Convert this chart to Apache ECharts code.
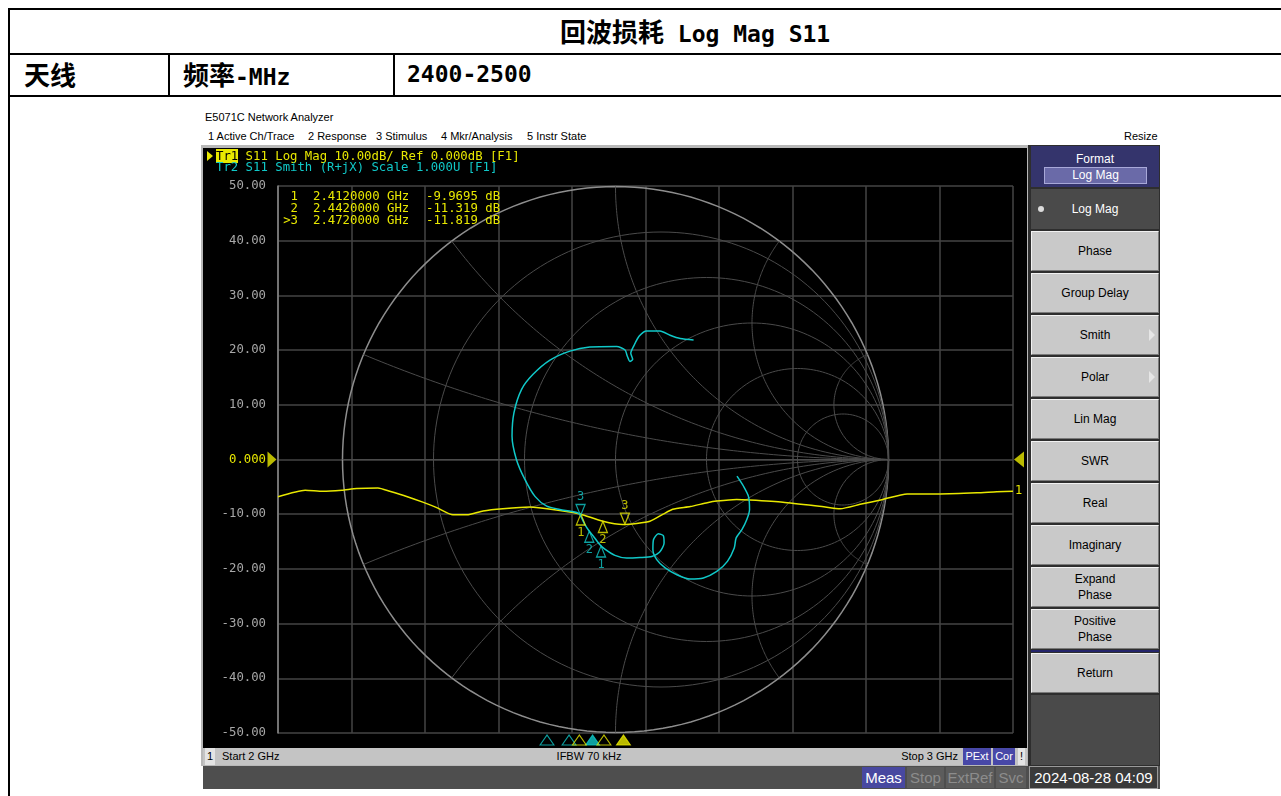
<!DOCTYPE html>
<html><head><meta charset="utf-8"><title>回波损耗 Log Mag S11</title>
<script src="https://cdn.jsdelivr.net/npm/echarts/dist/echarts.min.js"></script>
<style>
html,body{margin:0;padding:0;background:#fff;}
body{width:1281px;height:796px;position:relative;overflow:hidden;font-family:"Liberation Sans",Arial,sans-serif;}
.a{position:absolute;white-space:pre;}
.hl{background:#000;position:absolute;height:2px;}
.vl{background:#000;position:absolute;width:2px;}
.doc{font-family:"DejaVu Sans Mono","Noto Sans CJK SC",monospace;font-weight:bold;font-size:23px;line-height:30px;color:#000;}
.cj{font-family:"Noto Sans CJK SC",sans-serif;font-size:26px;font-weight:bold;}
.ui{font-size:11px;color:#000;line-height:14px;}
.mono{font-family:"DejaVu Sans Mono",monospace;font-size:12.3px;line-height:12px;}
.btn{position:absolute;left:1031px;width:126px;height:38px;background:#c9c9c9;border-top:1px solid #f2f2f2;border-left:1px solid #f2f2f2;border-bottom:1px solid #7a7a7a;border-right:1px solid #7a7a7a;display:flex;align-items:center;justify-content:center;text-align:center;font-size:12px;line-height:16px;color:#000;}
.arr{position:absolute;right:3px;top:13px;width:0;height:0;border-left:6px solid #e6e6e6;border-top:6px solid transparent;border-bottom:6px solid transparent;}
.sb{position:absolute;top:0;height:17px;line-height:17px;font-size:11px;}
.sb2{position:absolute;top:1px;height:21px;line-height:21px;font-size:15px;font-family:"Liberation Sans Narrow","Liberation Sans",sans-serif;text-align:center;}
</style></head>
<body>
<!-- document table -->
<div class="hl" style="left:8px;top:8px;width:1273px"></div>
<div class="hl" style="left:8px;top:53px;width:1273px"></div>
<div class="hl" style="left:8px;top:95px;width:1273px"></div>
<div class="vl" style="left:8px;top:8px;height:788px"></div>
<div class="vl" style="left:168px;top:53px;height:42px"></div>
<div class="vl" style="left:393px;top:53px;height:42px"></div>
<div class="a doc" style="left:560px;top:16px"><span class="cj">回波损耗</span> Log Mag S11</div>
<div class="a doc" style="left:24px;top:59px"><span class="cj">天线</span></div>
<div class="a doc" style="left:183px;top:59px"><span class="cj">频率</span>-MHz</div>
<div class="a doc" style="left:407px;top:59px">2400-2500</div>

<!-- analyzer chrome -->
<div class="a ui" style="left:205px;top:110px">E5071C Network Analyzer</div>
<div class="a ui" style="left:208px;top:129px">1 Active Ch/Trace</div>
<div class="a ui" style="left:308px;top:129px">2 Response</div>
<div class="a ui" style="left:376px;top:129px">3 Stimulus</div>
<div class="a ui" style="left:441px;top:129px">4 Mkr/Analysis</div>
<div class="a ui" style="left:527px;top:129px">5 Instr State</div>
<div class="a ui" style="left:1124px;top:129px">Resize</div>

<div class="a" style="left:201px;top:145px;width:829px;height:621px;background:#b8b8b8"></div>
<div id="chart" class="a" style="left:203px;top:148px;width:824px;height:600px;background:#000"></div>

<!-- trace header overlay -->
<div class="a" style="left:207px;top:151px;width:0;height:0;border-left:6px solid #e8e800;border-top:5px solid transparent;border-bottom:5px solid transparent"></div>
<div class="a mono" style="left:216px;top:150px;color:#e8e800"><span style="background:#e8e800;color:#000">Tr1</span> S11 Log Mag 10.00dB/ Ref 0.000dB [F1]</div>
<div class="a mono" style="left:216px;top:161px;color:#10c8c8">Tr2 S11 Smith (R+jX) Scale 1.000U [F1]</div>

<div class="a mono" style="left:270px;top:190px;width:28px;text-align:right;color:#e8e800">1</div>
<div class="a mono" style="left:313px;top:190px;color:#e8e800">2.4120000 GHz</div>
<div class="a mono" style="left:426px;top:190px;color:#e8e800">-9.9695 dB</div>
<div class="a mono" style="left:270px;top:202px;width:28px;text-align:right;color:#e8e800">2</div>
<div class="a mono" style="left:313px;top:202px;color:#e8e800">2.4420000 GHz</div>
<div class="a mono" style="left:426px;top:202px;color:#e8e800">-11.319 dB</div>
<div class="a mono" style="left:270px;top:214px;width:28px;text-align:right;color:#e8e800">&gt;3</div>
<div class="a mono" style="left:313px;top:214px;color:#e8e800">2.4720000 GHz</div>
<div class="a mono" style="left:426px;top:214px;color:#e8e800">-11.819 dB</div>

<!-- bottom status bar 1 -->
<div class="a" style="left:203px;top:748px;width:824px;height:17px;background:#c4c4c4">
  <div class="sb" style="left:2px;width:10px;background:#e4e4e4;text-align:center">1</div>
  <div class="sb" style="left:19px">Start 2 GHz</div>
  <div class="sb" style="left:336px;width:100px;text-align:center">IFBW 70 kHz</div>
  <div class="sb" style="left:680px;width:75px;text-align:right">Stop 3 GHz</div>
  <div class="sb" style="left:760px;width:28px;background:#4848a8;color:#fff;text-align:center">PExt</div>
  <div class="sb" style="left:790px;width:22px;background:#4848a8;color:#fff;text-align:center">Cor</div>
  <div class="sb" style="left:815px;width:7px;background:#e4e4e4;text-align:center">!</div>
</div>
<!-- bottom status bar 2 -->
<div class="a" style="left:203px;top:766px;width:957px;height:23px;background:#4e4e4e">
  <div class="sb2" style="left:659px;width:43px;background:#4848a0;color:#fff">Meas</div>
  <div class="sb2" style="left:704px;width:37px;background:#5c5c5c;color:#8c8c8c">Stop</div>
  <div class="sb2" style="left:743px;width:48px;background:#5c5c5c;color:#8c8c8c">ExtRef</div>
  <div class="sb2" style="left:793px;width:30px;background:#5c5c5c;color:#8c8c8c">Svc</div>
  <div class="sb2" style="left:826px;width:127px;background:#3a3a3a;color:#fff;border:1px solid #9a9a9a;top:0px">2024-08-28 04:09</div>
</div>

<!-- right softkey panel -->
<div class="a" style="left:1028px;top:145px;width:132px;height:621px;background:#2e2e2e"></div>
<div class="a" style="left:1031px;top:146px;width:128px;height:41px;background:#34346c;color:#fff;font-size:12px;text-align:center">
  <div style="position:absolute;left:0;top:6px;width:128px;line-height:14px">Format</div>
  <div style="position:absolute;left:13px;top:21px;width:101px;height:15px;line-height:15px;background:#6a6aa8;border:1px solid #a8a8d8">Log Mag</div>
</div>
<div class="a" style="left:1031px;top:189px;width:128px;height:40px;background:#4a4a4a;color:#fff;font-size:12px;line-height:40px;text-align:center">Log Mag<div style="position:absolute;left:7px;top:17px;width:6px;height:6px;border-radius:3px;background:#dcdcdc"></div></div>
<div class="btn" style="top:231px">Phase</div>
<div class="btn" style="top:273px">Group Delay</div>
<div class="btn" style="top:315px">Smith<div class="arr"></div></div>
<div class="btn" style="top:357px">Polar<div class="arr"></div></div>
<div class="btn" style="top:399px">Lin Mag</div>
<div class="btn" style="top:441px">SWR</div>
<div class="btn" style="top:483px">Real</div>
<div class="btn" style="top:525px">Imaginary</div>
<div class="btn" style="top:567px">Expand<br>Phase</div>
<div class="btn" style="top:609px">Positive<br>Phase</div>
<div class="a" style="left:1031px;top:650px;width:128px;height:2px;background:#24246a"></div>
<div class="btn" style="top:653px">Return</div>
<div class="a" style="left:1031px;top:695px;width:128px;height:70px;background:#4a4a4a"></div>

<script>
// ---- Tr1: S11 Log Mag (frequency GHz, dB) ----
const freqGHz = [2.000,2.037,2.061,2.087,2.107,2.136,2.152,2.176,2.197,2.216,2.238,2.257,2.279,2.306,2.343,2.366,2.397,2.412,2.442,2.469,2.488,2.506,2.524,2.537,2.561,2.584,2.597,2.624,2.642,2.687,2.740,2.765,2.792,2.823,2.856,2.901,2.951,2.978,3.000];
const logMagDb = [-6.8,-5.6,-5.8,-5.6,-5.3,-5.2,-5.8,-6.8,-7.8,-8.8,-10.1,-10.1,-9.4,-9.0,-8.7,-9.0,-9.6,-10.0,-11.3,-11.9,-11.7,-11.3,-10.0,-9.1,-8.6,-7.9,-7.6,-7.3,-7.4,-7.8,-8.6,-9.0,-8.2,-7.3,-6.3,-6.3,-6.1,-5.9,-5.8];

// ---- Tr2: S11 Smith (reflection coefficient, real / imaginary), 2 GHz -> 3 GHz ----
const smithRe = [0.445,0.469,0.487,0.491,0.481,0.463,0.442,0.435,0.410,0.371,0.322,0.273,0.225,0.182,0.151,0.137,0.139,0.157,0.175,0.178,0.161,0.133,0.090,0.041,-0.002,-0.039,-0.057,-0.081,-0.096,-0.112,-0.124,-0.133,-0.161,-0.204,-0.252,-0.295,-0.332,-0.363,-0.379,-0.372,-0.344,-0.302,-0.240,-0.167,-0.094,0.004,0.035,0.043,0.053,0.063,0.056,0.068,0.087,0.114,0.163,0.200,0.237,0.286];
const smithIm = [-0.061,-0.098,-0.135,-0.183,-0.220,-0.257,-0.287,-0.324,-0.373,-0.410,-0.434,-0.438,-0.422,-0.397,-0.367,-0.330,-0.294,-0.272,-0.279,-0.306,-0.340,-0.355,-0.359,-0.361,-0.351,-0.328,-0.312,-0.281,-0.263,-0.239,-0.214,-0.198,-0.190,-0.183,-0.171,-0.135,-0.073,0.000,0.086,0.171,0.257,0.312,0.364,0.397,0.412,0.414,0.401,0.379,0.359,0.367,0.389,0.418,0.452,0.471,0.471,0.455,0.443,0.438];

// ---- markers ----
const markerNames = ['1','2','3'];
const activeMarker = 2;
const tr1MarkerFreq = [2.412, 2.442, 2.472];
const tr1MarkerDb = [-9.9695, -11.319, -11.819];
const tr2MarkerRe = [-0.053, -0.096, -0.128];
const tr2MarkerIm = [-0.317, -0.263, -0.205];
// marker position indicators under the graticule
const stripTr2Freq = [2.366, 2.396, 2.428];
const stripTr1Freq = [2.410, 2.4435, 2.470];

// ---- axes ----
const yMin = -50, yMax = 50, yStep = 10;
const fStart = 2, fStop = 3, fStep = 0.1;
const refLevel = 0;
const smithR = [0, 0.2, 0.5, 1, 2, 5];
const smithX = [0, 0.2, 0.5, 1, 2, 5, -0.2, -0.5, -1, -2, -5];

const YEL = '#e8e800', CYA = '#10c8c8';
const MONO = 'DejaVu Sans Mono';
const UP = 'path://M5,0 L10,10 L0,10 Z';
const DOWN = 'path://M0,0 L10,0 L5,10 Z';

const smithGridDefs = smithR.map(v => [0, v]).concat(smithX.map(v => [1, v]));

function renderSmithGrid(params, api) {
  const kind = api.value(0), v = api.value(1);
  const pts = [];
  if (kind === 0) {
    const c = v / (1 + v), R = 1 / (1 + v);
    for (let k = 0; k <= 180; k++) {
      const t = k / 180 * 2 * Math.PI;
      pts.push(api.coord([c + R * Math.cos(t), R * Math.sin(t)]));
    }
  } else if (v === 0) {
    pts.push(api.coord([-1, 0]), api.coord([1, 0]));
  } else {
    for (let k = 0; k <= 120; k++) {
      const r = k < 120 ? Math.tan(k / 120 * Math.PI / 2) : 1e9;
      const d = (r + 1) * (r + 1) + v * v;
      pts.push(api.coord([(r * r + v * v - 1) / d, 2 * v / d]));
    }
  }
  const outer = kind === 0 && v === 0;
  return {type: 'polyline', silent: true, shape: {points: pts},
    style: {stroke: outer ? '#8e8e8e' : '#4b4b4b', lineWidth: outer ? 1.5 : 1, fill: null}};
}

function markerItems(xs, ys, active) {
  return xs.map((x, i) => ({i, value: [x, ys[i]]})).filter(d => (d.i === activeMarker) === active)
    .map(d => ({value: d.value, name: markerNames[d.i]}));
}
function markerSeries(xi, xs, ys, color, active) {
  return {
    type: 'scatter', xAxisIndex: xi, yAxisIndex: xi, z: 6, silent: true,
    data: markerItems(xs, ys, active),
    symbol: active ? DOWN : UP, symbolSize: [9, 11], symbolOffset: [0, active ? -5.5 : 5.5],
    itemStyle: {color: 'rgba(0,0,0,0)', borderColor: color, borderWidth: 1.3},
    label: {show: true, position: active ? 'top' : 'bottom', distance: 1, formatter: p => p.name,
      color: color, fontFamily: MONO, fontSize: 12}
  };
}
function stripSeries(fs, color) {
  return {
    type: 'scatter', xAxisIndex: 2, yAxisIndex: 2, silent: true, z: 5,
    data: fs.map((f, i) => ({value: [f, 0], itemStyle: {color: i === activeMarker ? color : 'rgba(0,0,0,0)'}})),
    symbol: UP, symbolSize: [14, 10], symbolOffset: [0, -6],
    itemStyle: {borderColor: color, borderWidth: 1}
  };
}

const chart = echarts.init(document.getElementById('chart'));
chart.setOption({
  animation: false,
  backgroundColor: '#000',
  grid: [
    {left: 75, top: 38, width: 735, height: 547},
    {left: 139.5, top: 38.5, width: 546, height: 546},
    {left: 75, top: 586, width: 735, height: 12}
  ],
  xAxis: [
    {gridIndex: 0, type: 'value', min: fStart, max: fStop, interval: fStep,
      axisLine: {show: false}, axisTick: {show: false}, axisLabel: {show: false},
      splitLine: {show: true, lineStyle: {color: '#444', width: 1.5}}},
    {gridIndex: 1, type: 'value', min: -1, max: 1, show: false},
    {gridIndex: 2, type: 'value', min: fStart, max: fStop, show: false}
  ],
  yAxis: [
    {gridIndex: 0, type: 'value', min: yMin, max: yMax, interval: yStep,
      axisLine: {show: true, lineStyle: {color: '#8a8a8a', width: 1.5}}, axisTick: {show: false},
      splitLine: {show: true, lineStyle: {color: '#444', width: 1.5}},
      axisLabel: {margin: 12, color: '#a8a8a8', fontFamily: MONO, fontSize: 12.3,
        formatter: v => v === refLevel ? '{r|0.000}' : v.toFixed(2),
        rich: {r: {color: YEL, fontFamily: MONO, fontSize: 12.3}}}},
    {gridIndex: 1, type: 'value', min: -1, max: 1, show: false},
    {gridIndex: 2, type: 'value', min: 0, max: 1, show: false}
  ],
  series: [
    {type: 'custom', xAxisIndex: 1, yAxisIndex: 1, z: 1, silent: true, clip: false,
      data: smithGridDefs, renderItem: renderSmithGrid},
    {type: 'line', name: 'Tr1 S11 Log Mag', xAxisIndex: 0, yAxisIndex: 0, z: 3,
      data: freqGHz.map((f, i) => [f, logMagDb[i]]), showSymbol: false, smooth: 0.2,
      lineStyle: {color: YEL, width: 1.5},
      endLabel: {show: true, formatter: '1', color: YEL, fontFamily: MONO, fontSize: 12, distance: 2}},
    {type: 'line', name: 'Tr2 S11 Smith', xAxisIndex: 1, yAxisIndex: 1, z: 4,
      data: smithRe.map((r, i) => [r, smithIm[i]]), showSymbol: false, smooth: 0.25,
      lineStyle: {color: CYA, width: 1.5}},
    markerSeries(0, tr1MarkerFreq, tr1MarkerDb, YEL, false),
    markerSeries(0, tr1MarkerFreq, tr1MarkerDb, YEL, true),
    markerSeries(1, tr2MarkerRe, tr2MarkerIm, CYA, false),
    markerSeries(1, tr2MarkerRe, tr2MarkerIm, CYA, true),
    {type: 'scatter', xAxisIndex: 0, yAxisIndex: 0, z: 6, silent: true, clip: false,
      data: [[fStart, refLevel]], symbol: 'path://M0,0 L10,8 L0,16 Z', symbolSize: [9, 16], symbolOffset: [-6, 0],
      itemStyle: {color: YEL}},
    {type: 'scatter', xAxisIndex: 0, yAxisIndex: 0, z: 6, silent: true, clip: false,
      data: [[fStop, refLevel]], symbol: 'path://M10,0 L0,8 L10,16 Z', symbolSize: [10, 16], symbolOffset: [6, 0],
      itemStyle: {color: YEL}},
    stripSeries(stripTr2Freq, CYA),
    stripSeries(stripTr1Freq, YEL)
  ]
});
</script>
</body></html>
